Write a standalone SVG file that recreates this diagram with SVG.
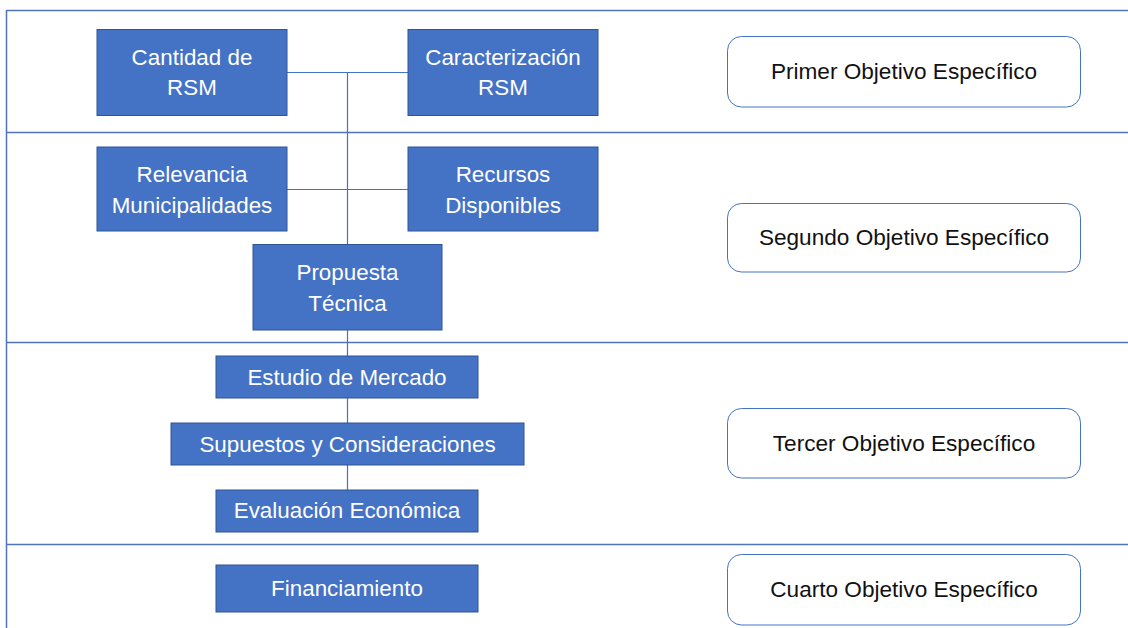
<svg xmlns="http://www.w3.org/2000/svg" width="1128" height="628" viewBox="0 0 1128 628">
  <style>
    .frame { stroke: #4F74B8; stroke-width: 1.5; fill: none; }
    .conn { stroke: #4472C4; stroke-width: 1.2; fill: none; }
    .box { fill: #4472C4; stroke: #2F5597; stroke-width: 1; }
    .obj { fill: #FFFFFF; stroke: #4472C4; stroke-width: 1; }
    .wt { font-family: "Liberation Sans", Arial, sans-serif; font-size: 22.4px; fill: #FFFFFF; text-anchor: middle; }
    .bt { font-family: "Liberation Sans", Arial, sans-serif; font-size: 22.6px; fill: #111111; text-anchor: middle; }
  </style>
  <rect width="1128" height="628" fill="#FFFFFF"/>
  <g id="frame">
    <line class="frame" x1="6.5" y1="10.5" x2="1128" y2="10.5"/>
    <line class="frame" x1="6.5" y1="10" x2="6.5" y2="628"/>
    <line class="frame" x1="6" y1="132.5" x2="1128" y2="132.5"/>
    <line class="frame" x1="6" y1="342.5" x2="1128" y2="342.5"/>
    <line class="frame" x1="6" y1="544.5" x2="1128" y2="544.5"/>
  </g>
  <g id="connectors">
    <line class="conn" x1="287" y1="72.5" x2="408" y2="72.5"/>
    <line class="conn" x1="287" y1="189.5" x2="408" y2="189.5"/>
    <line class="conn" x1="347.5" y1="72.5" x2="347.5" y2="244"/>
    <line class="conn" x1="347.5" y1="330" x2="347.5" y2="356"/>
    <line class="conn" x1="347.5" y1="398" x2="347.5" y2="423"/>
    <line class="conn" x1="347.5" y1="465" x2="347.5" y2="490"/>
  </g>
  <g id="cantidad">
    <rect class="box" x="97" y="29.5" width="190" height="86"/>
    <text class="wt" x="192" y="64.5">Cantidad de</text>
    <text class="wt" x="192" y="95">RSM</text>
  </g>
  <g id="caracterizacion">
    <rect class="box" x="408" y="29.5" width="190" height="86"/>
    <text class="wt" x="503" y="64.5">Caracterización</text>
    <text class="wt" x="503" y="95">RSM</text>
  </g>
  <g id="relevancia">
    <rect class="box" x="97" y="147" width="190" height="84"/>
    <text class="wt" x="192" y="182">Relevancia</text>
    <text class="wt" x="192" y="212.5">Municipalidades</text>
  </g>
  <g id="recursos">
    <rect class="box" x="408" y="147" width="190" height="84"/>
    <text class="wt" x="503" y="182">Recursos</text>
    <text class="wt" x="503" y="212.5">Disponibles</text>
  </g>
  <g id="propuesta">
    <rect class="box" x="253" y="244.5" width="189" height="85.5"/>
    <text class="wt" x="347.5" y="280">Propuesta</text>
    <text class="wt" x="347.5" y="310.5">Técnica</text>
  </g>
  <g id="estudio">
    <rect class="box" x="216" y="356" width="262" height="42"/>
    <text class="wt" x="347" y="384.5">Estudio de Mercado</text>
  </g>
  <g id="supuestos">
    <rect class="box" x="171" y="423" width="353" height="42"/>
    <text class="wt" x="347.5" y="451.5">Supuestos y Consideraciones</text>
  </g>
  <g id="evaluacion">
    <rect class="box" x="216" y="490" width="262" height="42"/>
    <text class="wt" x="347" y="518">Evaluación Económica</text>
  </g>
  <g id="financiamiento">
    <rect class="box" x="216" y="565" width="262" height="47"/>
    <text class="wt" x="347" y="596">Financiamiento</text>
  </g>
  <g id="obj1">
    <rect class="obj" x="727.5" y="36.5" width="353" height="70.5" rx="14"/>
    <text class="bt" x="904" y="79">Primer Objetivo Específico</text>
  </g>
  <g id="obj2">
    <rect class="obj" x="727.5" y="203.5" width="353" height="68.5" rx="14"/>
    <text class="bt" x="904" y="245">Segundo Objetivo Específico</text>
  </g>
  <g id="obj3">
    <rect class="obj" x="727.5" y="408.5" width="353" height="69.5" rx="14"/>
    <text class="bt" x="904" y="450.5">Tercer Objetivo Específico</text>
  </g>
  <g id="obj4">
    <rect class="obj" x="727.5" y="554.5" width="353" height="70.5" rx="14"/>
    <text class="bt" x="904" y="597">Cuarto Objetivo Específico</text>
  </g>
</svg>
